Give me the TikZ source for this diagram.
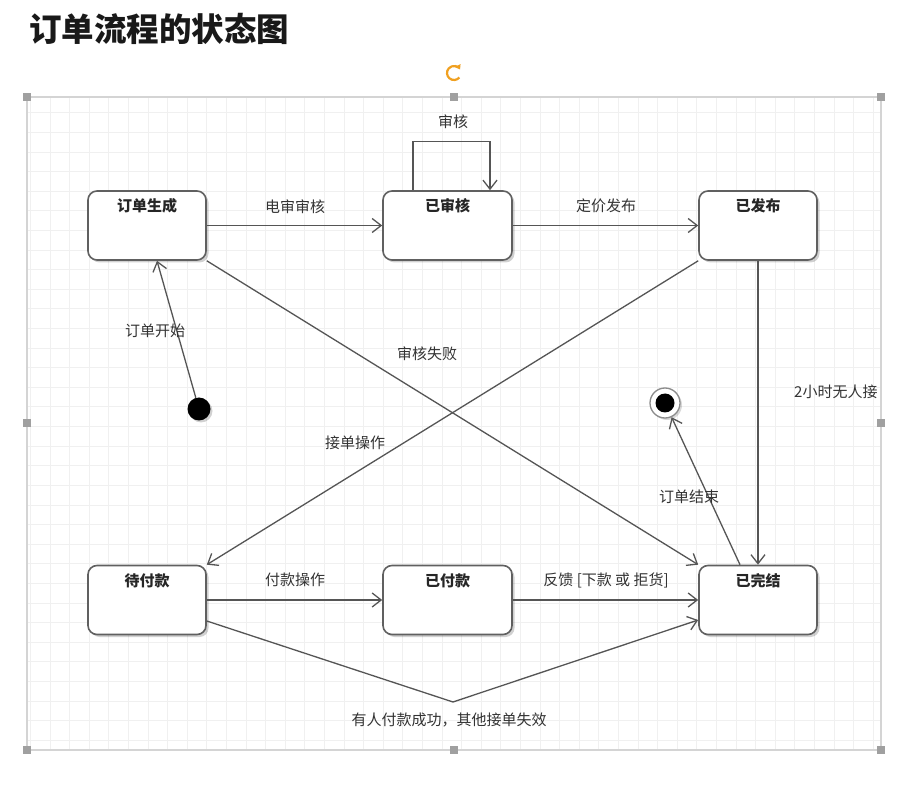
\documentclass[tikz,border=0pt]{standalone}
\usepackage{fontspec}
\setmainfont{Noto Sans CJK SC}
\usetikzlibrary{arrows.meta,shadows}
\definecolor{edgec}{HTML}{555555}
\definecolor{boxc}{HTML}{606060}
\definecolor{gridc}{HTML}{F0F0F0}
\definecolor{framec}{HTML}{D4D4D4}
\definecolor{handlec}{HTML}{A0A0A0}
\definecolor{rotc}{HTML}{F0A020}
\tikzset{
  statebox/.style={draw=boxc, line width=1.6pt, fill=white, rounded corners=9pt,
    minimum width=118pt, minimum height=69pt, inner sep=0pt,
    drop shadow={shadow xshift=2.5pt, shadow yshift=-2.5pt, opacity=0.18, fill=black}},
  boxtitle/.style={font=\fontsize{15}{17}\selectfont\bfseries, text=black!85},
  trans/.style={draw=edgec, line width=1.3pt, -{Straight Barb[length=9pt,width=14pt,line width=1.3pt]}},
  elabel/.style={font=\fontsize{15}{17}\selectfont, text=black!80, inner sep=1pt},
  handle/.style={fill=handlec, draw=none, minimum size=8pt, inner sep=0pt, rectangle},
}
\begin{document}
\begin{tikzpicture}[x=1pt,y=-1pt]
\useasboundingbox (0,0) rectangle (900,791);
\fill[white] (0,0) rectangle (900,791);
% grid
\foreach \i in {0,...,43} {\draw[gridc, line width=1pt] ({30.4+19.6*\i},97) -- ({30.4+19.6*\i},750);}
\foreach \j in {0,...,32} {\draw[gridc, line width=1pt] (27,{113+19.6*\j}) -- (881,{113+19.6*\j});}
% selection frame
\draw[framec, line width=1.4pt] (27,97) rectangle (881,750);
\foreach \p [count=\k] in {(27,97),(454,97),(881,97),(27,423),(881,423),(27,750),(454,750),(881,750)}
  {\node[handle] (h\k) at \p {};}
% rotate icon
\draw[rotc, line width=2.2pt, -{Triangle[length=4.5pt,width=6pt]}] (454,73) ++(40:7) arc[start angle=40, end angle=330, radius=7];
% title
\node[anchor=west, font=\fontsize{32.5}{36}\selectfont\bfseries, text=black!90, inner sep=0pt] (title) at (29,29) {订单流程的状态图};
% states
\node[statebox, label={[boxtitle, anchor=north, yshift=-5pt]north:订单生成}] (ddsc) at (147,225.5) {};
\node[statebox, minimum width=129pt, label={[boxtitle, anchor=north, yshift=-5pt]north:已审核}] (ysh) at (447.5,225.5) {};
\node[statebox, label={[boxtitle, anchor=north, yshift=-5pt]north:已发布}] (yfb) at (758,225.5) {};
\node[statebox, label={[boxtitle, anchor=north, yshift=-5pt]north:待付款}] (dfk) at (147,600) {};
\node[statebox, minimum width=129pt, label={[boxtitle, anchor=north, yshift=-5pt]north:已付款}] (yfk) at (447.5,600) {};
\node[statebox, label={[boxtitle, anchor=north, yshift=-5pt]north:已完结}] (ywj) at (758,600) {};
% initial and final
\node[circle, fill=black, minimum size=23pt, inner sep=0pt,
  drop shadow={shadow xshift=2pt, shadow yshift=-2pt, opacity=0.18, fill=black}] (init) at (199,409) {};
\node[circle, draw=black!45, fill=white, line width=1.3pt, minimum size=30pt, inner sep=0pt,
  drop shadow={shadow xshift=2pt, shadow yshift=-2pt, opacity=0.15, fill=black}] (final) at (665,403) {};
\node[circle, fill=black, minimum size=19pt, inner sep=0pt] (finalin) at (final) {};
% transitions
\draw[trans] (init) -- ([xshift=10pt]ddsc.south);
\draw[trans] (ddsc.east) -- (ysh.west);
\draw[trans] (ysh.east) -- (yfb.west);
\draw[trans] ([xshift=-34.5pt]ysh.north) -- ++(0,-49) -| ([xshift=42.5pt]ysh.north);
\draw[trans] (yfb.south) -- (ywj.north);
\draw[trans] (yfb.south west) -- (dfk.north east);
\draw[trans] (ddsc.south east) -- (ywj.north west);
\draw[trans] (dfk.east) -- (yfk.west);
\draw[trans] (yfk.east) -- (ywj.west);
\coordinate (vtip) at (453,702);
\draw[trans] ([yshift=-21pt]dfk.east) -- (vtip) -- ([yshift=-20pt]ywj.west);
\draw[trans] ([xshift=-18pt]ywj.north) -- (final);
% labels
\node[elabel] (l1) at (295,207) {电审审核};
\node[elabel] (l2) at (606,206) {定价发布};
\node[elabel] (l3) at (453,122) {审核};
\node[elabel] (l4) at (155,331) {订单开始};
\node[elabel] (l5) at (427,354) {审核失败};
\node[elabel] (l6) at (355,443) {接单操作};
\node[elabel, anchor=west] (l7) at (793,392) {2小时无人接};
\node[elabel] (l8) at (689,497) {订单结束};
\node[elabel] (l9) at (295,580) {付款操作};
\node[elabel] (l10) at (606,580) {反馈 [下款 或 拒货]};
\node[elabel] (l11) at (449,720) {有人付款成功，其他接单失效};
\end{tikzpicture}
\end{document}
